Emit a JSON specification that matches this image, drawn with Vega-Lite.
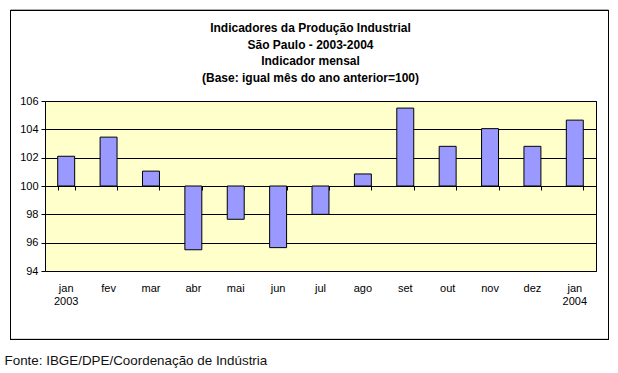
{
  "$schema": "https://vega.github.io/schema/vega-lite/v6.json",
  "width": 551,
  "height": 170,
  "autosize": {"type": "none"},
  "padding": {"left": 45, "top": 101, "right": 22, "bottom": 102},
  "background": "white",
  "config": {
    "view": {"fill": "#FFFFCC", "stroke": "black", "strokeWidth": 1},
    "font": "Liberation Sans"
  },
  "title": {
    "text": ["Indicadores da Produção Industrial", "São Paulo - 2003-2004", "Indicador mensal", "(Base: igual mês do ano anterior=100)"],
    "font": "Liberation Sans",
    "fontSize": 12,
    "fontWeight": "bold",
    "color": "black",
    "lineHeight": 16.7,
    "anchor": "middle",
    "frame": "group",
    "dx": -10,
    "offset": -75
  },
  "data": {
    "values": [
      {"mes": "jan|2003", "valor": 102.1},
      {"mes": "fev", "valor": 103.45},
      {"mes": "mar", "valor": 101.05},
      {"mes": "abr", "valor": 95.5},
      {"mes": "mai", "valor": 97.65},
      {"mes": "jun", "valor": 95.65},
      {"mes": "jul", "valor": 98.0},
      {"mes": "ago", "valor": 100.85},
      {"mes": "set", "valor": 105.5},
      {"mes": "out", "valor": 102.8},
      {"mes": "nov", "valor": 104.05},
      {"mes": "dez", "valor": 102.8},
      {"mes": "jan|2004", "valor": 104.65}
    ]
  },
  "resolve": {"scale": {"x": "independent"}, "axis": {"x": "independent"}},
  "layer": [
    {
      "mark": {"type": "rect", "fill": null, "fillOpacity": 0, "stroke": "black", "strokeWidth": 1, "clip": false},
      "encoding": {
        "x": {"datum": -0.0626, "type": "quantitative", "scale": {"domain": [0, 1], "nice": false, "zero": false}, "axis": null},
        "x2": {"datum": 1.0227},
        "y": {"datum": 112.39, "type": "quantitative"},
        "y2": {"datum": 89.165}
      }
    },
    {
      "mark": {"type": "bar", "fill": "#9999FF", "stroke": "black", "strokeWidth": 1},
      "encoding": {
        "x": {
          "field": "mes",
          "type": "nominal",
          "sort": null,
          "scale": {"paddingInner": 0.6, "paddingOuter": 0.3},
          "axis": {
            "orient": "bottom",
            "domain": false,
            "ticks": false,
            "labelAngle": 0,
            "labelExpr": "split(datum.value, '|')",
            "labelFontSize": 11,
            "labelColor": "black",
            "labelPadding": 11,
            "labelLineHeight": 13.5,
            "labelBaseline": "top",
            "title": "Fonte: IBGE/DPE/Coordenação de Indústria",
            "titleFontSize": 13.4,
            "titleFontWeight": "normal",
            "titleColor": "#111111",
            "titleAlign": "left",
            "titleAnchor": "start",
            "titleBaseline": "alphabetic",
            "titleX": -41,
            "titleY": 93
          }
        },
        "y": {
          "field": "valor",
          "type": "quantitative",
          "scale": {"domain": [94, 106], "nice": false, "zero": false},
          "axis": {
            "values": [94, 96, 98, 100, 102, 104, 106],
            "tickCount": 7,
            "labelOverlap": false,
            "grid": true,
            "gridColor": "black",
            "gridOpacity": 1,
            "domain": false,
            "tickColor": "black",
            "tickSize": 4,
            "labelPadding": 3,
            "labelFontSize": 11,
            "labelColor": "black",
            "title": null
          }
        },
        "y2": {"datum": 100}
      }
    },
    {
      "mark": {"type": "tick", "opacity": 0},
      "encoding": {
        "x": {
          "field": "mes",
          "type": "nominal",
          "sort": null,
          "scale": {"paddingInner": 0.6, "paddingOuter": 0.3},
          "axis": {
            "orient": "bottom",
            "offset": -85,
            "labels": false,
            "domain": true,
            "domainColor": "black",
            "ticks": true,
            "tickBand": "extent",
            "tickColor": "black",
            "tickSize": 4,
            "title": null
          }
        },
        "y": {"datum": 100, "type": "quantitative"}
      }
    }
  ]
}
